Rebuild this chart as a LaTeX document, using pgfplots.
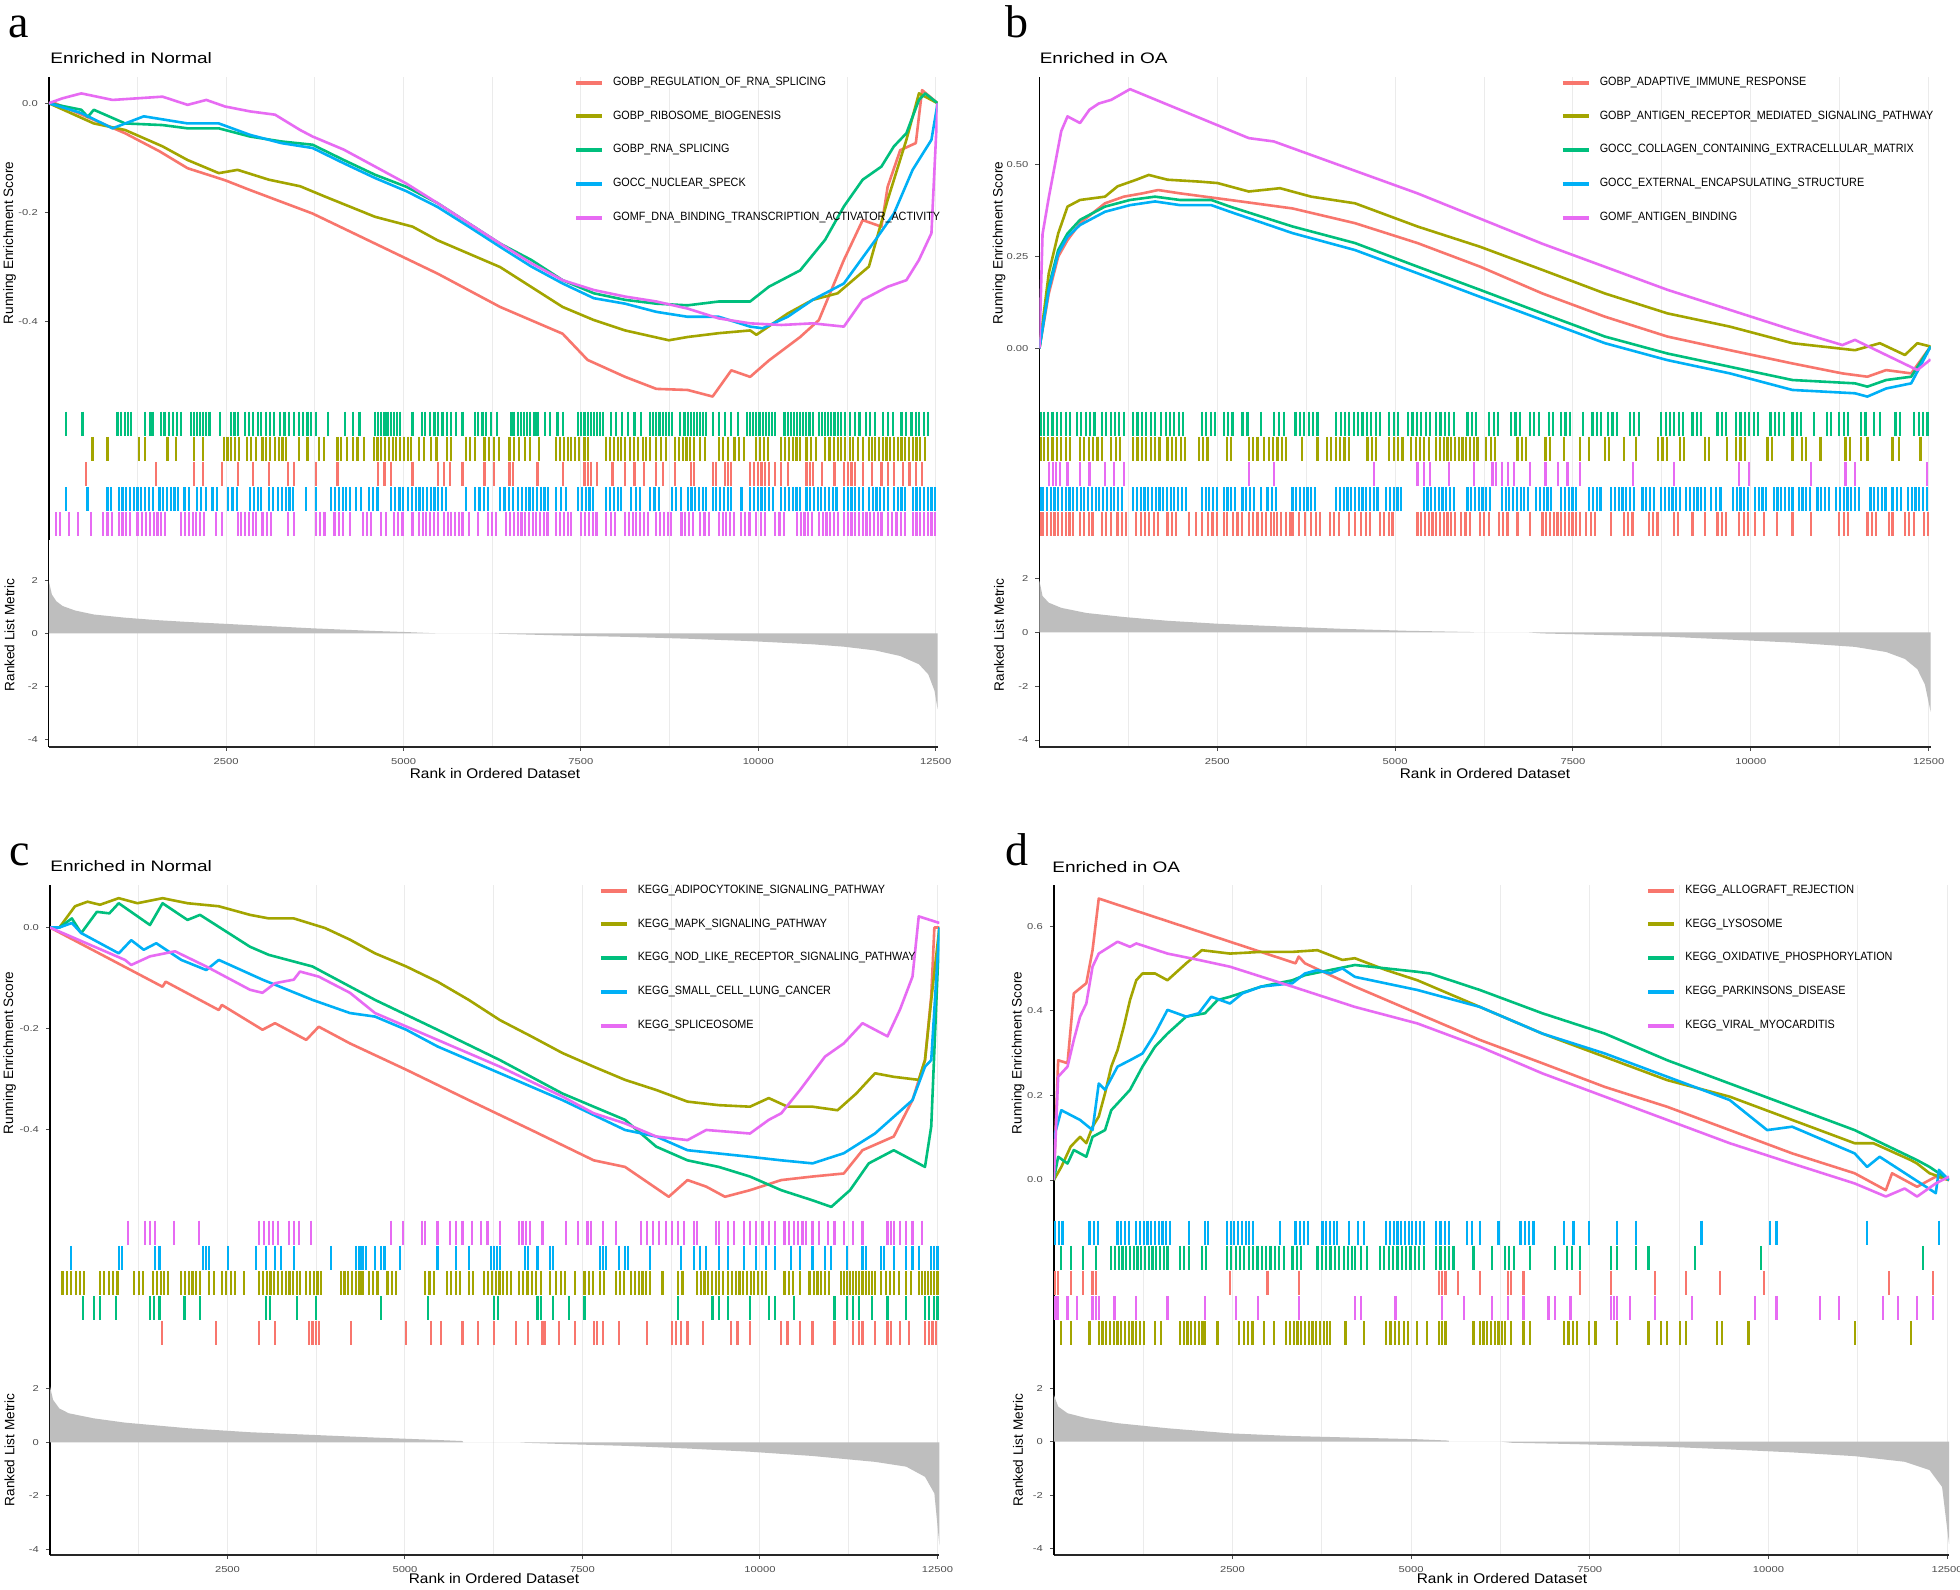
\documentclass[border=0pt]{standalone}
\usepackage{fontspec}
\setmainfont{Liberation Sans}
\newfontfamily\ttlfont[FakeStretch=1.25]{Liberation Sans}
\newfontfamily\xlabfont[FakeStretch=1.1]{Liberation Sans}
\newfontfamily\tickfont[FakeStretch=1.3]{Liberation Sans}
\newfontfamily\legfont[FakeStretch=0.9]{Liberation Sans}
\newfontfamily\rotfont{Liberation Sans}
\newfontfamily\letterfont{Liberation Serif}
\usepackage{pgfplots}
\pgfplotsset{compat=1.18}
\definecolor{cR}{HTML}{F8766D}
\definecolor{cO}{HTML}{A3A500}
\definecolor{cG}{HTML}{00BF7D}
\definecolor{cB}{HTML}{00B0F6}
\definecolor{cP}{HTML}{E76BF3}
\definecolor{gridc}{HTML}{EBEBEB}
\definecolor{tickc}{HTML}{4D4D4D}
\definecolor{rankc}{HTML}{BEBEBE}
\pgfplotsset{
  gsbase/.style={scale only axis, anchor=north west, xmin=0, xmax=12527,
    xtick={2500,5000,7500,10000,12500}, minor xtick={1250,3750,6250,8750,11250},
    scaled ticks=false,
    xmajorgrids=true, xminorgrids=true,
    major grid style={draw=gridc, line width=0.5pt},
    minor grid style={draw=gridc, line width=0.5pt},
    axis x line*=bottom, axis y line*=left, axis line style={-},
    y axis line style={draw=black, line width=0.7pt},
    tick align=outside, major tick length=2pt, minor tick length=0pt,
    tick style={draw=tickc, line width=0.5pt},
    /pgf/number format/assume math mode=true,
    /pgf/number format/1000 sep={},
    ticklabel style={font=\tickfont\fontsize{4.3}{5}\selectfont, text=tickc}},
  es/.style={gsbase, x axis line style={draw=none}, xticklabels={}, xtick style={draw=none},
    legend cell align=left,
    legend image code/.code={\draw[##1, line width=2pt] (0pt,0pt) -- (13pt,0pt);},
    legend style={anchor=north west, draw=none, fill=none, inner sep=0pt, outer sep=0pt,
      font=\legfont\fontsize{6}{7}\selectfont, row sep=11.2pt, column sep=4.5pt,
      nodes={inner sep=0pt}}},
  rugax/.style={gsbase, x axis line style={draw=none}, xticklabels={}, xtick style={draw=none}, ytick=\empty},
  rankax/.style={gsbase, x axis line style={draw=black!85, line width=1pt}, ytick={-4,-2,0,2}, yticklabels={-4,-2,0,2},
    xticklabels={2500,5000,7500,10000,12500}},
  curve/.style={line width=1.3pt, line join=round}
}
\newcommand{\rug}[3]{\addplot[only marks, mark=|, mark size=6pt, color=#2, mark options={line width=1.1pt}] table[header=false, x index=0, y expr=#1, row sep=\\]{#3};}
\begin{document}
\begin{tikzpicture}
\useasboundingbox (0,0) rectangle (980pt,-795pt);
\fill[white] (0,0) rectangle (980pt,-795pt);

% ================= PANEL A =================
\begin{axis}[es, at={(24.4pt,-38.5pt)}, width=444.4pt, height=165.5pt, ymin=-0.558, ymax=0.048,
  ytick={-0.4,-0.2,0}, yticklabels={-0.4,-0.2,0.0}, legend style={at={(0.591,1.0)}}]
\addplot[cR, curve] coordinates {(0,0)(88,0)(1075,-0.055)(1560,-0.088)(1956,-0.119)(2484,-0.141)(2837,-0.159)(3718,-0.202)(4599,-0.257)(5480,-0.312)(6361,-0.373)(7242,-0.422)(7594,-0.470)(8123,-0.501)(8563,-0.523)(9004,-0.525)(9356,-0.537)(9620,-0.489)(9885,-0.501)(10149,-0.471)(10590,-0.428)(10854,-0.397)(11206,-0.287)(11471,-0.214)(11735,-0.226)(11823,-0.153)(12000,-0.086)(12220,-0.073)(12308,0.024)(12527,0)};
\addlegendentry{GOBP\_REGULATION\_OF\_RNA\_SPLICING}
\addplot[cO, curve] coordinates {(0,0)(634,-0.037)(1075,-0.049)(1603,-0.079)(1956,-0.104)(2396,-0.128)(2661,-0.122)(3101,-0.140)(3542,-0.152)(3894,-0.171)(4599,-0.208)(5127,-0.226)(5480,-0.251)(6361,-0.300)(7242,-0.373)(7682,-0.397)(8123,-0.416)(8739,-0.434)(9004,-0.428)(9444,-0.421)(9885,-0.416)(9973,-0.424)(10414,-0.385)(10766,-0.360)(11118,-0.348)(11559,-0.299)(11823,-0.177)(12087,-0.067)(12264,0.018)(12527,0)};
\addlegendentry{GOBP\_RIBOSOME\_BIOGENESIS}
\addplot[cG, curve] coordinates {(0,0)(458,-0.012)(550,-0.025)(634,-0.012)(1075,-0.037)(1603,-0.040)(1956,-0.046)(2396,-0.046)(2837,-0.061)(3277,-0.070)(3718,-0.076)(4158,-0.104)(4599,-0.131)(5039,-0.153)(5480,-0.183)(5920,-0.220)(6361,-0.257)(6801,-0.287)(7242,-0.324)(7682,-0.348)(8123,-0.360)(8563,-0.367)(9004,-0.370)(9444,-0.363)(9885,-0.363)(10149,-0.336)(10590,-0.306)(10942,-0.250)(11206,-0.189)(11471,-0.140)(11735,-0.116)(11911,-0.079)(12087,-0.055)(12264,0.006)(12352,0.018)(12527,0)};
\addlegendentry{GOBP\_RNA\_SPLICING}
\addplot[cB, curve] coordinates {(0,0)(458,-0.018)(899,-0.046)(1339,-0.024)(1956,-0.037)(2396,-0.037)(2837,-0.058)(3277,-0.073)(3718,-0.082)(4158,-0.110)(4599,-0.137)(5039,-0.161)(5480,-0.190)(5920,-0.226)(6361,-0.263)(6801,-0.299)(7242,-0.330)(7682,-0.357)(8123,-0.367)(8563,-0.382)(9004,-0.391)(9444,-0.391)(9885,-0.409)(10061,-0.412)(10414,-0.391)(10766,-0.360)(11206,-0.330)(11647,-0.251)(11911,-0.202)(12175,-0.122)(12440,-0.067)(12527,0)};
\addlegendentry{GOCC\_NUCLEAR\_SPECK}
\addplot[cP, curve] coordinates {(0,0)(194,0.009)(458,0.018)(899,0.006)(1603,0.012)(1956,-0.003)(2220,0.006)(2484,-0.006)(2837,-0.015)(3189,-0.021)(3542,-0.049)(3718,-0.061)(4158,-0.085)(4599,-0.116)(5039,-0.147)(5480,-0.183)(5920,-0.220)(6361,-0.257)(6801,-0.293)(7242,-0.324)(7682,-0.342)(8123,-0.354)(8563,-0.363)(9004,-0.376)(9444,-0.394)(9885,-0.403)(10325,-0.406)(10766,-0.403)(11206,-0.409)(11471,-0.360)(11823,-0.336)(12087,-0.324)(12264,-0.287)(12440,-0.238)(12527,0)};
\addlegendentry{GOMF\_DNA\_BINDING\_TRANSCRIPTION\_ACTIVATOR\_ACTIVITY}
\end{axis}

\begin{axis}[rugax, at={(24.4pt,-204pt)}, width=444.4pt, height=66pt, ymin=-0.12, ymax=5.12]
\rug{4.5}{cG}{238\\476\\969\\1013\\1075\\1119\\1163\\1357\\1427\\1462\\1586\\1630\\1692\\1754\\1806\\1859\\2000\\2044\\2088\\2132\\2176\\2220\\2264\\2414\\2573\\2617\\2661\\2767\\2820\\2882\\2943\\2996\\3057\\3119\\3172\\3260\\3321\\3383\\3454\\3524\\3586\\3647\\3700\\3762\\3938\\4176\\4290\\4379\\4599\\4643\\4687\\4731\\4775\\4819\\4863\\4907\\4951\\5127\\5260\\5304\\5374\\5436\\5480\\5550\\5612\\5674\\5744\\5832\\6008\\6052\\6114\\6167\\6229\\6317\\6520\\6555\\6608\\6652\\6696\\6740\\6784\\6845\\6889\\6995\\7066\\7171\\7242\\7462\\7506\\7550\\7594\\7638\\7682\\7726\\7770\\7814\\7929\\7991\\8079\\8167\\8255\\8343\\8475\\8519\\8563\\8607\\8651\\8695\\8739\\8783\\8898\\8960\\9004\\9048\\9092\\9136\\9180\\9224\\9268\\9356\\9444\\9532\\9620\\9709\\9841\\9885\\9929\\9973\\10017\\10061\\10105\\10149\\10193\\10237\\10369\\10413\\10457\\10501\\10545\\10589\\10633\\10677\\10721\\10766\\10854\\10898\\10942\\10986\\11030\\11074\\11118\\11162\\11224\\11294\\11365\\11427\\11515\\11577\\11647\\11753\\11823\\11894\\12017\\12087\\12158\\12220\\12264\\12334\\12396\\}
\rug{3.5}{cO}{617\\828\\1269\\1357\\1674\\1797\\2044\\2176\\2467\\2520\\2573\\2626\\2678\\2793\\2855\\2925\\3013\\3066\\3119\\3189\\3242\\3295\\3348\\3524\\3647\\3806\\3877\\4070\\4114\\4202\\4290\\4352\\4440\\4581\\4634\\4687\\4740\\4793\\4846\\4898\\4951\\5004\\5057\\5110\\5216\\5286\\5392\\5463\\5612\\5674\\5876\\5938\\6008\\6141\\6202\\6273\\6343\\6493\\6555\\6625\\6713\\6784\\6907\\7154\\7207\\7260\\7313\\7365\\7418\\7471\\7550\\7594\\7858\\7911\\7964\\8017\\8070\\8123\\8193\\8246\\8299\\8370\\8422\\8475\\8563\\8625\\8695\\8828\\8881\\8934\\8987\\9040\\9092\\9180\\9251\\9444\\9506\\9576\\9664\\9726\\9797\\9973\\10026\\10079\\10132\\10325\\10378\\10431\\10484\\10537\\10590\\10678\\10739\\10810\\10942\\11004\\11065\\11118\\11162\\11224\\11294\\11338\\11400\\11471\\11559\\11603\\11647\\11700\\11753\\11806\\11859\\11911\\11964\\12017\\12070\\12123\\12176\\12229\\12281\\12352\\}
\rug{2.5}{cR}{529\\1516\\2044\\2176\\2441\\2661\\2881\\3101\\3366\\3454\\3762\\4070\\4643\\4731\\4819\\5127\\5480\\5568\\5656\\5832\\6141\\6273\\6493\\6537\\6889\\7242\\7550\\7594\\7638\\7726\\7946\\8123\\8255\\8387\\8563\\8652\\8828\\9048\\9092\\9356\\9400\\9532\\9576\\9620\\9885\\9938\\9991\\10044\\10096\\10149\\10237\\10325\\10413\\10678\\10731\\10766\\10898\\11074\\11206\\11259\\11312\\11365\\11471\\11603\\11735\\11823\\11911\\12043\\12132\\12220\\12308\\}
\rug{1.5}{cB}{238\\546\\828\\881\\987\\1040\\1093\\1145\\1198\\1251\\1304\\1357\\1410\\1463\\1559\\1612\\1665\\1718\\1771\\1824\\1912\\1974\\2088\\2150\\2211\\2308\\2370\\2529\\2590\\2652\\2837\\2890\\2943\\2996\\3101\\3163\\3233\\3286\\3339\\3392\\3445\\3630\\3762\\3982\\4035\\4088\\4141\\4194\\4246\\4334\\4405\\4511\\4573\\4634\\4819\\4881\\4942\\4995\\5057\\5119\\5172\\5225\\5277\\5330\\5383\\5436\\5489\\5542\\5595\\5876\\6008\\6070\\6132\\6194\\6361\\6423\\6485\\6546\\6608\\6669\\6722\\6775\\6828\\6881\\6934\\6986\\7039\\7154\\7216\\7286\\7462\\7515\\7568\\7620\\7673\\7858\\7911\\7964\\8017\\8070\\8211\\8273\\8334\\8475\\8537\\8599\\8783\\8845\\8907\\9004\\9057\\9110\\9163\\9216\\9268\\9356\\9409\\9462\\9515\\9568\\9620\\9762\\9885\\9938\\9991\\10044\\10096\\10149\\10202\\10325\\10378\\10431\\10484\\10537\\10590\\10678\\10731\\10784\\10836\\10889\\10942\\10995\\11048\\11101\\11206\\11259\\11312\\11365\\11418\\11471\\11559\\11612\\11665\\11718\\11770\\11823\\11911\\11964\\12017\\12070\\12176\\12229\\12281\\12334\\12387\\12440\\12493\\}
\rug{0.5}{cP}{106\\159\\282\\414\\590\\767\\828\\890\\987\\1040\\1093\\1145\\1251\\1313\\1374\\1427\\1480\\1533\\1586\\1638\\1868\\1921\\1974\\2027\\2080\\2132\\2185\\2352\\2441\\2661\\2714\\2767\\2820\\2873\\2925\\3013\\3075\\3136\\3366\\3454\\3762\\3824\\3885\\4026\\4088\\4150\\4246\\4423\\4485\\4546\\4687\\4749\\4863\\4925\\4986\\5127\\5216\\5269\\5321\\5374\\5427\\5480\\5568\\5621\\5674\\5727\\5780\\5832\\5920\\6052\\6185\\6246\\6308\\6449\\6502\\6555\\6608\\6661\\6713\\6766\\6819\\6872\\6925\\6977\\7030\\7154\\7207\\7260\\7313\\7365\\7506\\7559\\7612\\7665\\7718\\7858\\7920\\7982\\8123\\8176\\8229\\8281\\8334\\8387\\8440\\8563\\8616\\8669\\8722\\8775\\8916\\8969\\9022\\9075\\9180\\9242\\9304\\9444\\9497\\9550\\9603\\9656\\9753\\9815\\9877\\9973\\10035\\10096\\10237\\10299\\10360\\10545\\10598\\10651\\10704\\10757\\10854\\10907\\10960\\11013\\11065\\11118\\11206\\11259\\11312\\11365\\11418\\11471\\11524\\11577\\11630\\11682\\11735\\11823\\11885\\11947\\12008\\12070\\12176\\12229\\12281\\12334\\12387\\12440\\12493\\}
\end{axis}

\begin{axis}[rankax, at={(24.4pt,-270pt)}, width=444.4pt, height=103.5pt, ymin=-4.27, ymax=3.51]
\addplot[fill=rankc, draw=none] coordinates {(0,0)(0,1.96)(44,1.46)(106,1.21)(194,1.03)(370,0.86)(634,0.71)(1075,0.59)(1515,0.50)(1956,0.43)(2484,0.36)(2837,0.31)(3277,0.25)(3718,0.19)(4158,0.14)(4599,0.09)(5039,0.05)(5400,0.01)(5500,0)(6270,0)(6300,-0.01)(7242,-0.08)(8123,-0.13)(9004,-0.2)(9885,-0.29)(10766,-0.41)(11206,-0.5)(11647,-0.64)(12000,-0.85)(12264,-1.16)(12396,-1.54)(12484,-2.16)(12527,-2.85)(12527,0)};
\end{axis}

% ================= PANEL B =================
\begin{axis}[es, at={(519.7pt,-38.5pt)}, width=445.6pt, height=165.5pt, ymin=-0.162, ymax=0.737,
  ytick={0,0.25,0.5}, yticklabels={0.00,0.25,0.50}, legend style={at={(0.585,1.0)}}]
\addplot[cR, curve] coordinates {(0,0)(132,0.149)(264,0.249)(395,0.294)(571,0.340)(922,0.394)(1186,0.412)(1449,0.421)(1669,0.430)(1976,0.421)(2679,0.403)(3558,0.380)(4436,0.340)(5314,0.286)(6193,0.222)(7071,0.149)(7950,0.086)(8828,0.032)(9706,-0.005)(10585,-0.041)(11287,-0.068)(11638,-0.077)(11902,-0.059)(12254,-0.068)(12527,0.005)};
\addlegendentry{GOBP\_ADAPTIVE\_IMMUNE\_RESPONSE}
\addplot[cO, curve] coordinates {(0,0)(132,0.204)(264,0.312)(395,0.385)(571,0.403)(922,0.412)(1098,0.440)(1362,0.458)(1537,0.471)(1801,0.458)(2240,0.453)(2503,0.449)(2943,0.426)(3382,0.435)(3821,0.412)(4436,0.394)(5314,0.331)(6193,0.276)(7071,0.213)(7950,0.149)(8828,0.095)(9706,0.059)(10585,0.014)(11463,-0.005)(11814,0.014)(12166,-0.018)(12341,0.014)(12527,0.005)};
\addlegendentry{GOBP\_ANTIGEN\_RECEPTOR\_MEDIATED\_SIGNALING\_PATHWAY}
\addplot[cG, curve] coordinates {(0,0)(132,0.168)(264,0.267)(395,0.312)(571,0.349)(922,0.385)(1274,0.403)(1625,0.412)(1976,0.403)(2416,0.403)(2679,0.385)(3558,0.331)(4436,0.286)(5314,0.222)(6193,0.159)(7071,0.095)(7950,0.032)(8828,-0.014)(9706,-0.050)(10585,-0.086)(11463,-0.095)(11638,-0.104)(11902,-0.086)(12254,-0.077)(12527,0.005)};
\addlegendentry{GOCC\_COLLAGEN\_CONTAINING\_EXTRACELLULAR\_MATRIX}
\addplot[cB, curve] coordinates {(0,0)(132,0.159)(264,0.258)(395,0.303)(571,0.335)(922,0.371)(1274,0.389)(1625,0.399)(1976,0.389)(2416,0.389)(2679,0.371)(3558,0.313)(4436,0.267)(5314,0.204)(6193,0.140)(7071,0.077)(7950,0.014)(8828,-0.032)(9706,-0.068)(10585,-0.113)(11463,-0.122)(11638,-0.131)(11902,-0.109)(12254,-0.095)(12527,0.005)};
\addlegendentry{GOCC\_EXTERNAL\_ENCAPSULATING\_STRUCTURE}
\addplot[cP, curve] coordinates {(0,0)(44,0.31)(132,0.41)(307,0.59)(395,0.63)(571,0.612)(703,0.648)(835,0.665)(1010,0.675)(1274,0.704)(2943,0.571)(3294,0.562)(5314,0.421)(7071,0.284)(8828,0.159)(10585,0.050)(11287,0.009)(11463,0.023)(12341,-0.059)(12527,-0.03)};
\addlegendentry{GOMF\_ANTIGEN\_BINDING}
\end{axis}

\begin{axis}[rugax, at={(519.7pt,-204pt)}, width=445.6pt, height=66pt, ymin=-0.12, ymax=5.12]
\rug{4.5}{cG}{20\\61\\123\\184\\246\\307\\369\\430\\527\\589\\650\\712\\773\\878\\940\\1001\\1063\\1124\\1186\\1318\\1379\\1441\\1502\\1564\\1625\\1713\\1774\\1836\\1897\\1959\\2020\\2284\\2345\\2407\\2468\\2591\\2653\\2714\\2855\\2925\\3118\\3294\\3364\\3435\\3601\\3663\\3724\\3786\\3847\\3909\\4172\\4234\\4295\\4357\\4418\\4480\\4541\\4603\\4664\\4726\\4787\\4919\\4981\\5042\\5183\\5244\\5306\\5367\\5429\\5490\\5578\\5639\\5701\\5762\\5824\\6017\\6078\\6140\\6324\\6386\\6447\\6632\\6693\\6755\\6895\\6957\\7018\\7159\\7220\\7335\\7396\\7458\\7642\\7774\\7835\\7897\\7993\\8055\\8116\\8301\\8362\\8424\\8740\\8802\\8863\\8925\\8986\\9048\\9179\\9241\\9302\\9531\\9592\\9654\\9794\\9856\\9917\\9979\\10040\\10102\\10277\\10339\\10400\\10462\\10585\\10646\\10708\\10892\\11068\\11129\\11244\\11305\\11367\\11551\\11612\\11727\\11815\\12034\\12095\\12298\\12359\\12421\\12482\\}
\rug{3.5}{cO}{20\\61\\123\\184\\246\\307\\369\\430\\571\\632\\694\\755\\817\\878\\1010\\1072\\1133\\1318\\1379\\1441\\1502\\1564\\1625\\1687\\1801\\1862\\1924\\1985\\2047\\2240\\2301\\2363\\2635\\2697\\2943\\3004\\3066\\3162\\3224\\3285\\3347\\3408\\3470\\3689\\3909\\4041\\4102\\4164\\4225\\4287\\4348\\4612\\4673\\4735\\4919\\4981\\5042\\5103\\5226\\5288\\5349\\5411\\5472\\5578\\5631\\5683\\5736\\5789\\5841\\5894\\5947\\6000\\6052\\6105\\6158\\6281\\6342\\6404\\6720\\6781\\6843\\7115\\7176\\7379\\7598\\7730\\7950\\8011\\8213\\8389\\8696\\8758\\8819\\9004\\9066\\9355\\9416\\9662\\9794\\9856\\9917\\10233\\10295\\10585\\10716\\10778\\10980\\11331\\11393\\11551\\11639\\11990\\12078\\12385\\}
\rug{2.5}{cP}{132\\193\\237\\290\\395\\571\\703\\922\\1054\\1186\\2943\\3294\\4699\\5314\\5402\\5490\\5754\\6105\\6369\\6413\\6500\\6588\\6676\\6895\\7115\\7291\\7423\\7598\\8345\\8916\\9838\\9970\\10848\\11331\\11463\\12473\\}
\rug{1.5}{cB}{20\\53\\105\\158\\211\\264\\316\\369\\422\\474\\527\\580\\632\\685\\738\\790\\843\\896\\949\\1001\\1054\\1107\\1159\\1318\\1370\\1423\\1476\\1529\\1581\\1634\\1687\\1739\\1792\\1845\\1897\\1950\\2003\\2055\\2284\\2337\\2389\\2442\\2495\\2591\\2644\\2697\\2750\\2855\\2908\\2961\\3013\\3118\\3206\\3268\\3329\\3558\\3610\\3663\\3716\\3769\\3821\\3874\\4172\\4225\\4278\\4330\\4383\\4436\\4488\\4541\\4594\\4646\\4699\\4752\\4875\\4928\\4981\\5033\\5086\\5402\\5455\\5508\\5560\\5613\\5666\\5718\\5771\\5824\\6017\\6070\\6123\\6175\\6228\\6281\\6333\\6500\\6553\\6606\\6658\\6711\\6764\\6816\\6869\\6983\\7036\\7089\\7141\\7194\\7335\\7388\\7440\\7493\\7546\\7730\\7783\\7835\\7888\\8037\\8090\\8143\\8195\\8248\\8301\\8353\\8477\\8529\\8582\\8635\\8740\\8793\\8846\\8898\\8951\\9004\\9091\\9144\\9197\\9250\\9302\\9355\\9443\\9513\\9574\\9750\\9803\\9856\\9908\\9961\\10058\\10111\\10163\\10216\\10321\\10374\\10427\\10480\\10532\\10585\\10673\\10726\\10778\\10831\\10936\\10989\\11042\\11094\\11200\\11253\\11305\\11358\\11411\\11463\\11516\\11683\\11736\\11788\\11841\\11894\\11990\\12051\\12113\\12210\\12263\\12315\\12368\\12421\\12473\\}
\rug{0.5}{cR}{20\\53\\105\\158\\211\\264\\316\\369\\422\\474\\571\\632\\694\\747\\878\\940\\1001\\1098\\1159\\1221\\1362\\1423\\1485\\1546\\1607\\1669\\1801\\1862\\1924\\2108\\2196\\2284\\2372\\2433\\2495\\2591\\2635\\2723\\2785\\2846\\2943\\3004\\3066\\3127\\3189\\3250\\3294\\3338\\3399\\3461\\3522\\3558\\3645\\3733\\3821\\3883\\3944\\4085\\4146\\4208\\4348\\4436\\4524\\4585\\4647\\4787\\4849\\4910\\4963\\5314\\5367\\5420\\5472\\5525\\5578\\5631\\5683\\5736\\5789\\5841\\5929\\5990\\6052\\6193\\6254\\6316\\6456\\6518\\6579\\6720\\6895\\7071\\7124\\7176\\7229\\7282\\7335\\7388\\7440\\7493\\7546\\7598\\7686\\7748\\7809\\8037\\8213\\8275\\8336\\8565\\8626\\8688\\8916\\8977\\9179\\9355\\9531\\9592\\9654\\9838\\9900\\9961\\10058\\10190\\10365\\10585\\10848\\11244\\11305\\11367\\11639\\11700\\11762\\11946\\11990\\12166\\12227\\12289\\12429\\12491\\}
\end{axis}

\begin{axis}[rankax, at={(519.7pt,-270pt)}, width=445.6pt, height=103.5pt, ymin=-4.26, ymax=3.43]
\addplot[fill=rankc, draw=none] coordinates {(0,0)(0,1.92)(44,1.35)(132,1.1)(307,0.91)(659,0.72)(1186,0.57)(1801,0.43)(2503,0.32)(3382,0.22)(4260,0.13)(5139,0.06)(6105,0.01)(6110,0)(6850,0)(7071,-0.04)(7950,-0.1)(8828,-0.16)(9706,-0.27)(10585,-0.38)(11463,-0.54)(11902,-0.73)(12166,-0.99)(12341,-1.37)(12447,-1.94)(12527,-2.95)(12527,0)};
\end{axis}

% ================= PANEL C =================
\begin{axis}[es, at={(25pt,-442.5pt)}, width=444.7pt, height=165.5pt, ymin=-0.570, ymax=0.084,
  ytick={-0.4,-0.2,0}, yticklabels={-0.4,-0.2,0.0}, legend style={at={(0.617,1.0)}}]
\addplot[cR, curve] coordinates {(0,0)(1585,-0.117)(1629,-0.107)(2377,-0.163)(2421,-0.153)(2993,-0.202)(3169,-0.189)(3609,-0.222)(3785,-0.196)(4225,-0.229)(5018,-0.281)(5898,-0.341)(6778,-0.400)(7658,-0.460)(8099,-0.473)(8715,-0.532)(8979,-0.499)(9243,-0.512)(9507,-0.532)(9859,-0.519)(10299,-0.499)(10740,-0.492)(11180,-0.486)(11444,-0.440)(11884,-0.413)(12148,-0.341)(12324,-0.262)(12412,-0.136)(12456,0)(12527,0)};
\addlegendentry{KEGG\_ADIPOCYTOKINE\_SIGNALING\_PATHWAY}
\addplot[cO, curve] coordinates {(0,0)(132,0)(352,0.042)(528,0.051)(704,0.045)(968,0.058)(1232,0.048)(1585,0.058)(1937,0.048)(2377,0.042)(2817,0.025)(3081,0.018)(3433,0.018)(3873,-0.001)(4225,-0.024)(4578,-0.051)(5018,-0.077)(5458,-0.107)(5898,-0.143)(6338,-0.183)(6778,-0.215)(7218,-0.248)(7658,-0.275)(8099,-0.301)(8539,-0.321)(8979,-0.344)(9419,-0.351)(9859,-0.354)(10124,-0.337)(10388,-0.354)(10740,-0.354)(11092,-0.361)(11356,-0.328)(11620,-0.288)(11884,-0.295)(12236,-0.301)(12324,-0.262)(12412,-0.143)(12527,0)};
\addlegendentry{KEGG\_MAPK\_SIGNALING\_PATHWAY}
\addplot[cG, curve] coordinates {(0,0)(132,0)(308,0.018)(440,-0.011)(660,0.031)(836,0.028)(968,0.048)(1408,0.005)(1585,0.048)(1937,0.015)(2113,0.025)(2817,-0.038)(3081,-0.054)(3697,-0.077)(4578,-0.143)(5458,-0.202)(6338,-0.262)(7218,-0.328)(7658,-0.354)(8099,-0.380)(8539,-0.433)(8979,-0.460)(9419,-0.473)(9859,-0.492)(10299,-0.519)(10740,-0.539)(11004,-0.552)(11268,-0.519)(11532,-0.466)(11884,-0.440)(12324,-0.473)(12412,-0.393)(12527,0)};
\addlegendentry{KEGG\_NOD\_LIKE\_RECEPTOR\_SIGNALING\_PATHWAY}
\addplot[cB, curve] coordinates {(0,0)(132,0)(308,0.009)(440,-0.011)(704,-0.031)(968,-0.051)(1144,-0.025)(1320,-0.044)(1497,-0.031)(1849,-0.064)(2201,-0.084)(2377,-0.064)(2993,-0.103)(3697,-0.143)(4225,-0.169)(4578,-0.176)(5018,-0.202)(5458,-0.235)(6338,-0.288)(7218,-0.341)(8099,-0.400)(8539,-0.413)(8979,-0.440)(9859,-0.453)(10299,-0.460)(10740,-0.466)(11180,-0.446)(11620,-0.407)(11884,-0.374)(12148,-0.341)(12324,-0.275)(12412,-0.262)(12527,0)};
\addlegendentry{KEGG\_SMALL\_CELL\_LUNG\_CANCER}
\addplot[cP, curve] coordinates {(0,0)(1056,-0.064)(1144,-0.074)(1408,-0.057)(1761,-0.047)(2201,-0.077)(2817,-0.123)(2993,-0.129)(3169,-0.110)(3433,-0.103)(3521,-0.087)(3785,-0.097)(4225,-0.129)(4578,-0.169)(5458,-0.222)(6338,-0.275)(7218,-0.334)(7658,-0.367)(8099,-0.387)(8539,-0.413)(8979,-0.420)(9243,-0.400)(9859,-0.407)(10124,-0.380)(10300,-0.367)(10564,-0.321)(10916,-0.255)(11180,-0.229)(11444,-0.189)(11796,-0.215)(11972,-0.162)(12148,-0.097)(12236,0.022)(12527,0.009)};
\addlegendentry{KEGG\_SPLICEOSOME}
\end{axis}

\begin{axis}[rugax, at={(25pt,-608pt)}, width=444.7pt, height=67pt, ymin=-0.16, ymax=5.16]
\rug{4.5}{cP}{1100\\1338\\1408\\1479\\1743\\2095\\2949\\3011\\3081\\3143\\3213\\3363\\3433\\3504\\3671\\4798\\4974\\5238\\5282\\5458\\5634\\5722\\5810\\5942\\6074\\6162\\6338\\6602\\6655\\6708\\6761\\6937\\7263\\7439\\7571\\7615\\7791\\7967\\8319\\8407\\8495\\8583\\8671\\8759\\8847\\8935\\9067\\9111\\9375\\9419\\9551\\9639\\9771\\9859\\9947\\10035\\10123\\10211\\10344\\10405\\10476\\10537\\10599\\10652\\10740\\10828\\10960\\11048\\11180\\11312\\11444\\11796\\11840\\11884\\11972\\12060\\12148\\12280\\}
\rug{3.5}{cB}{291\\968\\1013\\1479\\1541\\2157\\2201\\2245\\2509\\2905\\3037\\3169\\3257\\3433\\3961\\4313\\4358\\4402\\4454\\4578\\4666\\4710\\4930\\5458\\5722\\5898\\6206\\6250\\6294\\6338\\6690\\6734\\6866\\7042\\7086\\7746\\7791\\7835\\8011\\8099\\8143\\8451\\8891\\9067\\9155\\9243\\9419\\9551\\9771\\9947\\10080\\10211\\10432\\10564\\10740\\10916\\11004\\11224\\11444\\11488\\11708\\11752\\11884\\12060\\12148\\12236\\12412\\12456\\12500\\}
\rug{2.5}{cO}{176\\238\\299\\361\\423\\484\\704\\766\\827\\889\\951\\1188\\1250\\1312\\1452\\1505\\1558\\1611\\1664\\1849\\1902\\1954\\2007\\2060\\2113\\2245\\2306\\2421\\2482\\2544\\2606\\2729\\2949\\3002\\3055\\3107\\3160\\3213\\3266\\3319\\3372\\3424\\3477\\3521\\3609\\3662\\3715\\3768\\3821\\4094\\4147\\4200\\4252\\4305\\4358\\4402\\4490\\4552\\4613\\4754\\4815\\4877\\5282\\5344\\5405\\5590\\5652\\5713\\5774\\5898\\5960\\6118\\6171\\6224\\6277\\6330\\6382\\6435\\6488\\6602\\6664\\6726\\6787\\6849\\6911\\7042\\7130\\7192\\7253\\7394\\7527\\7588\\7650\\7746\\7808\\7967\\8029\\8090\\8187\\8240\\8293\\8346\\8398\\8451\\8627\\8847\\8909\\9111\\9164\\9217\\9270\\9322\\9375\\9428\\9481\\9551\\9604\\9657\\9710\\9762\\9815\\9868\\9921\\9974\\10027\\10080\\10344\\10405\\10467\\10564\\10696\\10758\\10810\\10863\\10916\\10969\\11136\\11180\\11224\\11268\\11312\\11356\\11400\\11444\\11488\\11532\\11576\\11620\\11708\\11770\\11831\\11893\\11955\\12060\\12122\\12236\\12280\\12324\\12368\\12412\\12456\\12500\\}
\rug{1.5}{cG}{467\\616\\704\\924\\1408\\1470\\1541\\1893\\2113\\3037\\3099\\3477\\3741\\4666\\5326\\6250\\6312\\6866\\6910\\7086\\7306\\7527\\8847\\9331\\9419\\9551\\9859\\10123\\10211\\10476\\11048\\11224\\11312\\11400\\11576\\11796\\12060\\12324\\12386\\12447\\12500\\}
\rug{0.5}{cR}{1581\\2333\\2949\\3169\\3653\\3697\\3741\\3785\\4243\\5018\\5370\\5502\\5810\\6030\\6250\\6558\\6734\\6937\\6972\\7174\\7394\\7659\\7703\\7791\\8011\\8407\\8759\\8821\\8891\\8979\\9199\\9595\\9683\\9859\\10299\\10388\\10564\\10740\\11048\\11312\\11400\\11444\\11620\\11796\\11840\\11972\\12104\\12324\\12377\\12430\\12474\\}
\end{axis}

\begin{axis}[rankax, at={(25pt,-675pt)}, width=444.7pt, height=102.5pt, ymin=-4.22, ymax=3.46]
\addplot[fill=rankc, draw=none] coordinates {(0,0)(0,2.09)(44,1.59)(132,1.27)(264,1.09)(616,0.9)(1056,0.74)(1937,0.53)(2817,0.38)(3697,0.28)(4578,0.18)(5458,0.09)(5810,0.05)(5820,0)(6620,0)(6640,-0.01)(7438,-0.08)(8099,-0.13)(8979,-0.23)(9859,-0.35)(10740,-0.51)(11620,-0.73)(12060,-0.91)(12324,-1.29)(12456,-1.91)(12527,-3.85)(12527,0)};
\end{axis}

% ================= PANEL D =================
\begin{axis}[es, at={(526.9pt,-442.5pt)}, width=447.6pt, height=165.5pt, ymin=-0.085, ymax=0.697,
  ytick={0,0.2,0.4,0.6}, yticklabels={0.0,0.2,0.4,0.6}, legend style={at={(0.662,1.0)}}]
\addplot[cR, curve] coordinates {(0,0)(61,0.283)(192,0.276)(280,0.441)(455,0.465)(542,0.543)(629,0.665)(3383,0.512)(3427,0.528)(3514,0.512)(4213,0.457)(5087,0.394)(5962,0.331)(6836,0.276)(7710,0.220)(8584,0.173)(9458,0.118)(10332,0.063)(11206,0.016)(11643,-0.024)(11730,0.016)(12080,-0.016)(12342,0.008)(12527,0)};
\addlegendentry{KEGG\_ALLOGRAFT\_REJECTION}
\addplot[cO, curve] coordinates {(0,0)(105,0.031)(236,0.079)(367,0.102)(455,0.087)(542,0.126)(629,0.150)(717,0.205)(804,0.268)(892,0.307)(979,0.362)(1066,0.425)(1154,0.472)(1241,0.488)(1416,0.488)(1591,0.472)(1853,0.512)(2072,0.543)(2465,0.535)(2902,0.539)(3339,0.539)(3689,0.543)(4038,0.520)(4213,0.524)(4650,0.496)(5087,0.472)(5962,0.409)(6836,0.346)(7710,0.291)(8584,0.236)(9458,0.197)(10332,0.142)(11206,0.087)(11468,0.087)(11993,0.047)(12080,0.039)(12255,0.016)(12527,0)};
\addlegendentry{KEGG\_LYSOSOME}
\addplot[cG, curve] coordinates {(0,0)(61,0.055)(192,0.039)(280,0.071)(455,0.055)(542,0.102)(717,0.118)(804,0.165)(892,0.181)(1066,0.213)(1241,0.268)(1416,0.315)(1591,0.346)(1853,0.386)(2115,0.394)(2290,0.425)(2465,0.433)(2902,0.457)(3339,0.472)(3514,0.484)(3864,0.496)(4213,0.508)(4650,0.500)(5087,0.492)(5262,0.488)(5962,0.449)(6836,0.394)(7710,0.346)(8584,0.283)(9458,0.228)(10332,0.173)(11206,0.118)(12080,0.047)(12255,0.031)(12527,0)};
\addlegendentry{KEGG\_OXIDATIVE\_PHOSPHORYLATION}
\addplot[cB, curve] coordinates {(0,0)(17,0.110)(105,0.165)(367,0.142)(542,0.118)(629,0.228)(717,0.213)(892,0.268)(1066,0.283)(1241,0.299)(1416,0.346)(1591,0.402)(1853,0.386)(2028,0.394)(2203,0.433)(2465,0.417)(2640,0.441)(2902,0.457)(3339,0.465)(3514,0.488)(3689,0.496)(3864,0.488)(4038,0.500)(4213,0.480)(5087,0.449)(5962,0.409)(6836,0.346)(7710,0.299)(8584,0.244)(9458,0.189)(9982,0.118)(10332,0.126)(11206,0.063)(11381,0.031)(11556,0.055)(12342,-0.031)(12386,0.024)(12527,0)};
\addlegendentry{KEGG\_PARKINSONS\_DISEASE}
\addplot[cP, curve] coordinates {(0,0)(61,0.244)(192,0.268)(280,0.331)(367,0.386)(455,0.417)(542,0.504)(629,0.535)(892,0.563)(1066,0.551)(1154,0.559)(1591,0.535)(2028,0.520)(2465,0.504)(3339,0.457)(4213,0.409)(5087,0.370)(5962,0.315)(6836,0.252)(7710,0.197)(8584,0.142)(9458,0.087)(10332,0.039)(11206,-0.008)(11643,-0.039)(11906,-0.020)(12080,-0.039)(12342,-0.008)(12527,0.008)};
\addlegendentry{KEGG\_VIRAL\_MYOCARDITIS}
\end{axis}

\begin{axis}[rugax, at={(526.9pt,-608pt)}, width=447.6pt, height=67pt, ymin=-0.16, ymax=5.16]
\rug{4.5}{cB}{17\\70\\122\\498\\559\\621\\892\\944\\996\\1049\\1154\\1206\\1259\\1311\\1364\\1416\\1468\\1521\\1573\\1626\\1897\\2115\\2159\\2421\\2474\\2526\\2579\\2631\\2684\\2736\\2788\\3164\\3383\\3444\\3505\\3558\\3759\\3811\\3864\\3916\\3968\\4126\\4257\\4344\\4650\\4703\\4755\\4808\\4860\\4912\\4965\\5017\\5070\\5122\\5175\\5349\\5410\\5472\\5533\\5787\\5848\\5962\\6224\\6530\\6591\\6652\\6713\\7141\\7273\\7491\\7884\\8147\\9064\\10026\\10113\\11381\\12386\\}
\rug{3.5}{cG}{105\\236\\411\\586\\804\\856\\909\\961\\1014\\1066\\1119\\1171\\1224\\1276\\1329\\1381\\1434\\1486\\1539\\1591\\1766\\1827\\1888\\2072\\2133\\2421\\2482\\2544\\2605\\2666\\2727\\2788\\2850\\2911\\2972\\3033\\3094\\3156\\3217\\3339\\3400\\3461\\3689\\3750\\3811\\3872\\3934\\3995\\4056\\4117\\4178\\4213\\4301\\4388\\4563\\4624\\4685\\4746\\4808\\4869\\4930\\4991\\5052\\5113\\5175\\5349\\5410\\5472\\5533\\5594\\5874\\6136\\6311\\6372\\6434\\6661\\7010\\7185\\7246\\7360\\7797\\7884\\8147\\8322\\8977\\9895\\12168\\}
\rug{2.5}{cR}{17\\61\\236\\411\\542\\586\\2465\\2989\\3426\\5393\\5437\\5481\\5656\\5962\\6355\\6399\\6573\\7360\\7797\\8409\\8846\\9327\\9939\\11687\\12298\\}
\rug{1.5}{cP}{20\\52\\192\\323\\542\\594\\629\\848\\1154\\1591\\2115\\2552\\2858\\3426\\4213\\4301\\4781\\5437\\5743\\6136\\6355\\6573\\6923\\7010\\7229\\7797\\7841\\7884\\8059\\8409\\8933\\9808\\10113\\10725\\10987\\11599\\11818\\12080\\12298\\}
\rug{0.5}{cO}{105\\236\\498\\629\\682\\734\\787\\839\\892\\944\\996\\1049\\1101\\1154\\1206\\1259\\1416\\1503\\1766\\1818\\1871\\1923\\1976\\2028\\2080\\2115\\2290\\2596\\2657\\2718\\2780\\2946\\3077\\3252\\3304\\3356\\3409\\3461\\3514\\3566\\3619\\3671\\3723\\3776\\3828\\3864\\4082\\4344\\4650\\4711\\4772\\4834\\4895\\4956\\5087\\5218\\5393\\5437\\5481\\5874\\5962\\6014\\6066\\6119\\6171\\6224\\6276\\6311\\6399\\6573\\6661\\7141\\7203\\7264\\7325\\7491\\7579\\7884\\8322\\8497\\8584\\8759\\8846\\9283\\9345\\9720\\11206\\11993\\}
\end{axis}

\begin{axis}[rankax, at={(526.9pt,-675pt)}, width=447.6pt, height=102.5pt, ymin=-4.23, ymax=3.42]
\addplot[fill=rankc, draw=none] coordinates {(0,0)(0,1.75)(61,1.31)(192,1.06)(455,0.88)(892,0.69)(1591,0.5)(2465,0.31)(3339,0.21)(4213,0.15)(5087,0.09)(5524,0.04)(5530,0)(6260,0)(6398,-0.04)(7273,-0.09)(8584,-0.19)(9458,-0.29)(10332,-0.4)(11206,-0.54)(11905,-0.75)(12255,-1.06)(12430,-1.69)(12527,-3.81)(12527,0)};
\end{axis}

% ================= TEXT =================
\begin{scope}[every node/.style={inner sep=0pt}]
\node[anchor=base west, font=\letterfont\fontsize{23}{23}\selectfont] at (4pt,-18.5pt) {a};
\node[anchor=base west, font=\letterfont\fontsize{23}{23}\selectfont] at (502.5pt,-19pt) {b};
\node[anchor=base west, font=\letterfont\fontsize{23}{23}\selectfont] at (4.5pt,-432.5pt) {c};
\node[anchor=base west, font=\letterfont\fontsize{23}{23}\selectfont] at (502.5pt,-432.5pt) {d};
\node[anchor=base west, font=\ttlfont\fontsize{7.6}{9}\selectfont] at (25pt,-31.7pt) {Enriched in Normal};
\node[anchor=base west, font=\ttlfont\fontsize{7.6}{9}\selectfont] at (519.7pt,-31.7pt) {Enriched in OA};
\node[anchor=base west, font=\ttlfont\fontsize{7.6}{9}\selectfont] at (25pt,-435.5pt) {Enriched in Normal};
\node[anchor=base west, font=\ttlfont\fontsize{7.6}{9}\selectfont] at (526pt,-436pt) {Enriched in OA};
\node[rotate=90, font=\rotfont\fontsize{6.8}{8}\selectfont] at (4.75pt,-121.5pt) {Running Enrichment Score};
\node[rotate=90, font=\rotfont\fontsize{6.8}{8}\selectfont] at (499.5pt,-121.5pt) {Running Enrichment Score};
\node[rotate=90, font=\rotfont\fontsize{6.8}{8}\selectfont] at (4.75pt,-526.5pt) {Running Enrichment Score};
\node[rotate=90, font=\rotfont\fontsize{6.8}{8}\selectfont] at (509pt,-526.5pt) {Running Enrichment Score};
\node[rotate=90, font=\rotfont\fontsize{6.8}{8}\selectfont] at (4.75pt,-317.5pt) {Ranked List Metric};
\node[rotate=90, font=\rotfont\fontsize{6.8}{8}\selectfont] at (499.5pt,-317.5pt) {Ranked List Metric};
\node[rotate=90, font=\rotfont\fontsize{6.8}{8}\selectfont] at (4.75pt,-725pt) {Ranked List Metric};
\node[rotate=90, font=\rotfont\fontsize{6.8}{8}\selectfont] at (509pt,-725pt) {Ranked List Metric};
\node[anchor=base, font=\xlabfont\fontsize{7}{8}\selectfont] at (247.5pt,-389pt) {Rank in Ordered Dataset};
\node[anchor=base, font=\xlabfont\fontsize{7}{8}\selectfont] at (742.5pt,-389pt) {Rank in Ordered Dataset};
\node[anchor=base, font=\xlabfont\fontsize{7}{8}\selectfont] at (247pt,-791.5pt) {Rank in Ordered Dataset};
\node[anchor=base, font=\xlabfont\fontsize{7}{8}\selectfont] at (751pt,-791.5pt) {Rank in Ordered Dataset};
\end{scope}
\end{tikzpicture}
\end{document}
